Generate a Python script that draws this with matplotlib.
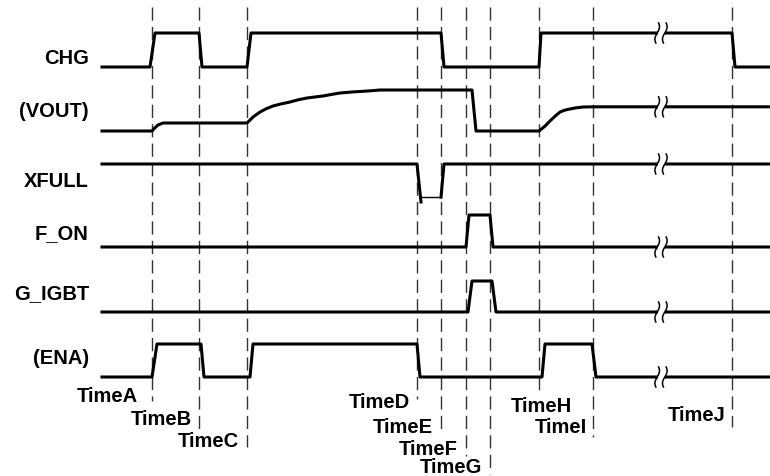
import numpy as np
import matplotlib.pyplot as plt

plt.rcParams['font.family'] = ['Liberation Sans', 'DejaVu Sans']

# time markers (x on the time axis)
time_names = ['TimeA', 'TimeB', 'TimeC', 'TimeD', 'TimeE',
              'TimeF', 'TimeG', 'TimeH', 'TimeI', 'TimeJ']
time_x = [152, 199, 247, 417, 441, 466, 490, 539, 593, 732]

# signal names
sig_names = ['CHG', '(VOUT)', 'XFULL', 'F_ON', 'G_IGBT', '(ENA)']

# waveforms: time points and levels (0 = low, 1 = high)
chg_t = [102, 150, 155, 199, 202, 247, 251, 441, 444, 539, 541, 732, 735, 770]
chg_v = [0, 0, 1, 1, 0, 0, 1, 1, 0, 0, 1, 1, 0, 0]

vout_t = [102, 152, 155, 158, 163, 247, 253, 260, 266, 273, 281, 290, 298,
          307, 315, 323, 331, 340, 354, 368, 380, 472, 476, 539, 545, 550,
          555, 560, 565, 570, 576, 583, 593, 770]
vout_v = [0, 0, 0.08, 0.146, 0.195, 0.195, 0.34, 0.463, 0.54, 0.61, 0.66,
          0.707, 0.76, 0.805, 0.83, 0.854, 0.89, 0.927, 0.955, 0.976, 1.0,
          1.0, 0, 0, 0.12, 0.244, 0.36, 0.463, 0.51, 0.537, 0.565, 0.585,
          0.59, 0.59]

xfull_t1 = [102, 417, 421]
xfull_v1 = [1, 1, 0]
xfull_dip_t = [421, 441]
xfull_dip_v = [0.13, 0.13]
xfull_t2 = [441, 444, 770]
xfull_v2 = [0.13, 1, 1]

fon_t = [102, 466, 469, 490, 493, 770]
fon_v = [0, 0, 1, 1, 0, 0]

igbt_t = [102, 468, 472, 492, 496, 770]
igbt_v = [0, 0, 1, 1, 0, 0]

ena_t = [102, 152, 157, 201, 204, 250, 253, 417, 420, 542, 545, 592, 596, 770]
ena_v = [0, 0, 1, 1, 0, 0, 1, 1, 0, 0, 1, 1, 0, 0]

break_t = 661

# layout (pixel-like axis units, y grows downward)
row_low = [68, 132, 203, 248, 313, 378]
row_amp = [34, 41, 38, 32, 31, 33]
name_base = [64, 117, 187, 239, 299, 364]
marker_bottom = [402, 430, 448, 400, 433, 457, 475, 392, 438, 428]
tlabel_right = [138, 192, 239, 410, 433, 458, 482, 572, 587, 726]
tlabel_base = [402, 425, 447, 408, 433, 455, 473, 412, 433, 421]

fig = plt.figure(figsize=(7.7, 4.77), dpi=100)
ax = fig.add_axes([0, 0, 1, 1])
ax.set_xlim(0, 770)
ax.set_ylim(477, 0)
ax.axis('off')

LW = 2.2


def yy(row, v):
    return row_low[row] - row_amp[row] * np.asarray(v, dtype=float)


# dashed time markers
for x, yb in zip(time_x, marker_bottom):
    ax.plot([x, x], [8, yb], color='#333333', lw=1.0, dashes=(9.5, 4.5), zorder=1)

# waveforms
ax.plot(chg_t, yy(0, chg_v), color='black', lw=LW, zorder=2)
ax.plot(vout_t, yy(1, vout_v), color='black', lw=LW, zorder=2)
ax.plot(xfull_t1, yy(2, xfull_v1), color='black', lw=LW, zorder=2)
ax.plot(xfull_dip_t, yy(2, xfull_dip_v), color='black', lw=1.0, zorder=2)
ax.plot(xfull_t2, yy(2, xfull_v2), color='black', lw=LW, zorder=2)
ax.plot(fon_t, yy(3, fon_v), color='black', lw=LW, zorder=2)
ax.plot(igbt_t, yy(4, igbt_v), color='black', lw=LW, zorder=2)
ax.plot(ena_t, yy(5, ena_v), color='black', lw=LW, zorder=2)

# break marks
levels_at_break = [
    np.interp(break_t, chg_t, chg_v),
    np.interp(break_t, vout_t, vout_v),
    np.interp(break_t, xfull_t2, xfull_v2),
    np.interp(break_t, fon_t, fon_v),
    np.interp(break_t, igbt_t, igbt_v),
    np.interp(break_t, ena_t, ena_v),
]
s = np.linspace(-1, 1, 40)
for row, lv in enumerate(levels_at_break):
    yc = yy(row, lv)
    ax.fill_between([break_t - 3.5, break_t + 3.5], yc - 3, yc + 3,
                    color='white', lw=0, zorder=3)
    for dx in (-3.8, 3.8):
        ax.plot(break_t + dx - 2.3 * np.sin(np.pi * s * 0.8), yc + 10 * s,
                color='black', lw=1.1, zorder=4)

# signal names
for name, yb in zip(sig_names, name_base):
    ax.text(89, yb, name, ha='right', va='baseline', fontsize=14.5,
            fontweight='bold')

# time labels
for name, xr, yb in zip(time_names, tlabel_right, tlabel_base):
    ax.text(xr, yb, name, ha='right', va='baseline', fontsize=14.5,
            fontweight='bold')

fig.savefig('out.png', dpi=100)
